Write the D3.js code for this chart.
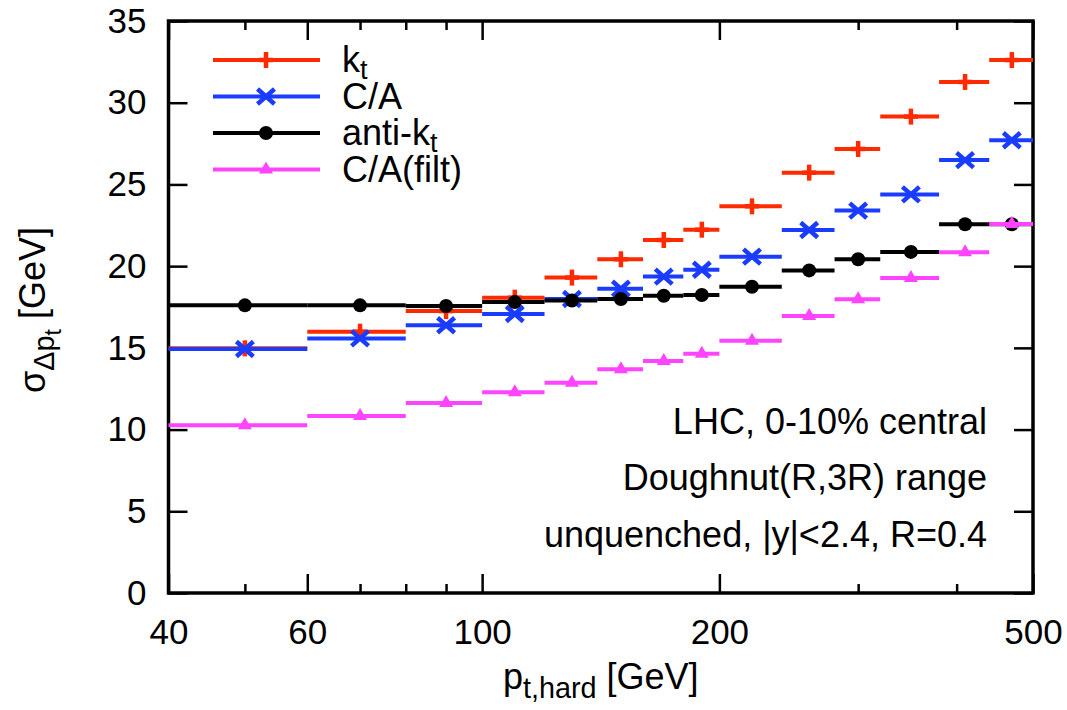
<!DOCTYPE html>
<html>
<head>
<meta charset="utf-8">
<script src="https://cdn.jsdelivr.net/npm/d3@7"></script>
<style>
  html, body { margin: 0; padding: 0; background: #fff; }
  svg { display: block; }
  text { font-family: "Liberation Sans", Arial, Helvetica, sans-serif; fill: #000; }
</style>
</head>
<body>
<svg id="chart" width="1067" height="710"></svg>
<script>
// ---- data ----
const binLo  = [40, 60, 80, 100, 120, 140, 160, 180, 200, 240, 280, 320, 380, 440];
const binHi  = [60, 80, 100, 120, 140, 160, 180, 200, 240, 280, 320, 380, 440, 500];
const binMid = [50, 70, 90, 110, 130, 150, 170, 190, 220, 260, 300, 350, 410, 470];

const ktVals     = [14.97, 15.99, 17.25, 18.07, 19.30, 20.42, 21.60, 22.23, 23.66, 25.72, 27.17, 29.15, 31.27, 32.61];
const caVals     = [14.93, 15.58, 16.38, 17.07, 17.99, 18.62, 19.36, 19.78, 20.58, 22.21, 23.40, 24.39, 26.49, 27.70];
const antiktVals = [17.60, 17.60, 17.56, 17.80, 17.90, 17.99, 18.19, 18.23, 18.74, 19.74, 20.42, 20.87, 22.56, 22.56];
const filtVals   = [10.26, 10.83, 11.63, 12.28, 12.87, 13.69, 14.20, 14.64, 15.44, 16.95, 17.97, 19.27, 20.85, 22.58];

const seriesLabels  = [["k", "t"], ["C/A", ""], ["anti-k", "t"], ["C/A(filt)", ""]];
const seriesMarkers = ["plus", "cross", "circle", "triangle"];
const seriesColors  = ["#ff2a00", "#1a3cff", "#000000", "#ff44ff"];

const xMajorTicks = [40, 60, 100, 200, 500];
const xMinorTicks = [50, 70, 80, 90, 300, 400];
const yTicks      = [0, 5, 10, 15, 20, 25, 30, 35];

const annotations = ["LHC, 0-10% central", "Doughnut(R,3R) range", "unquenched, |y|<2.4, R=0.4"];

// ---- layout ----
const W = 1067, H = 710;
const L = 168.5, R = 1033, T = 21, B = 593;
const FONT = 36, TICKFONT = 35;

const svg = d3.select("#chart");
const x = d3.scaleLog().domain([40, 500]).range([L, R]);
const y = d3.scaleLinear().domain([0, 35]).range([B, T]);

const seriesVals = [ktVals, caVals, antiktVals, filtVals];
const series = seriesVals.map((vals, i) => ({
  label: seriesLabels[i], marker: seriesMarkers[i], color: seriesColors[i],
  points: vals.map((v, j) => ({ lo: binLo[j], hi: binHi[j], mid: binMid[j], v }))
}));

// ---- axes ----
function styleAxis(g) {
  g.select(".domain").remove();
  g.selectAll(".tick line").attr("stroke", "#000").attr("stroke-width", 2.5);
  g.selectAll(".tick text").attr("font-size", TICKFONT)
    .attr("font-family", '"Liberation Sans", Arial, Helvetica, sans-serif').attr("fill", "#000");
  g.attr("font-size", null).attr("font-family", null);
}

svg.append("g").attr("transform", `translate(0,${B})`)
  .call(d3.axisBottom(x).tickValues(xMajorTicks).tickSize(-19).tickSizeOuter(0)
        .tickPadding(26).tickFormat(d3.format("d")))
  .call(styleAxis);
svg.append("g").attr("transform", `translate(0,${B})`)
  .call(d3.axisBottom(x).tickValues(xMinorTicks).tickSize(-9).tickSizeOuter(0).tickFormat(""))
  .call(styleAxis);
svg.append("g").attr("transform", `translate(0,${T})`)
  .call(d3.axisTop(x).tickValues(xMajorTicks).tickSize(-19).tickSizeOuter(0).tickFormat(""))
  .call(styleAxis);
svg.append("g").attr("transform", `translate(0,${T})`)
  .call(d3.axisTop(x).tickValues(xMinorTicks).tickSize(-9).tickSizeOuter(0).tickFormat(""))
  .call(styleAxis);
svg.append("g").attr("transform", `translate(${L},0)`)
  .call(d3.axisLeft(y).tickValues(yTicks).tickSize(-19).tickSizeOuter(0).tickPadding(22))
  .call(styleAxis);
svg.append("g").attr("transform", `translate(${R},0)`)
  .call(d3.axisRight(y).tickValues(yTicks).tickSize(-19).tickSizeOuter(0).tickFormat(""))
  .call(styleAxis);

// frame
svg.append("rect").attr("x", L).attr("y", T).attr("width", R - L).attr("height", B - T)
  .attr("fill", "none").attr("stroke", "#000").attr("stroke-width", 3.5);

// ---- markers ----
function drawMarker(g, type, color, cx, cy) {
  if (type === "plus") {
    g.append("line").attr("x1", cx).attr("x2", cx).attr("y1", cy - 8).attr("y2", cy + 8)
      .attr("stroke", color).attr("stroke-width", 4.5);
    g.append("line").attr("x1", cx - 7).attr("x2", cx + 7).attr("y1", cy).attr("y2", cy)
      .attr("stroke", color).attr("stroke-width", 4.5);
  } else if (type === "cross") {
    g.append("line").attr("x1", cx - 8.5).attr("x2", cx + 8.5).attr("y1", cy - 7.5).attr("y2", cy + 7.5)
      .attr("stroke", color).attr("stroke-width", 4.5);
    g.append("line").attr("x1", cx - 8.5).attr("x2", cx + 8.5).attr("y1", cy + 7.5).attr("y2", cy - 7.5)
      .attr("stroke", color).attr("stroke-width", 4.5);
  } else if (type === "circle") {
    g.append("circle").attr("cx", cx).attr("cy", cy).attr("r", 7).attr("fill", color);
  } else if (type === "triangle") {
    g.append("path").attr("d", `M${cx},${cy - 8}L${cx + 7},${cy + 4}L${cx - 7},${cy + 4}Z`).attr("fill", color);
  }
}

// ---- data marks ----
series.forEach(s => {
  const g = svg.append("g");
  g.selectAll("line.bin").data(s.points).enter().append("line").attr("class", "bin")
    .attr("x1", d => x(d.lo)).attr("x2", d => x(d.hi))
    .attr("y1", d => y(d.v)).attr("y2", d => y(d.v))
    .attr("stroke", s.color).attr("stroke-width", 4);
  s.points.forEach(d => drawMarker(g, s.marker, s.color, x(d.mid), y(d.v)));
});

// ---- legend ----
const legY0 = 60, legStep = 36.5;
series.forEach((s, i) => {
  const ly = legY0 + i * legStep;
  const g = svg.append("g");
  g.append("line").attr("x1", 213).attr("x2", 320).attr("y1", ly).attr("y2", ly)
    .attr("stroke", s.color).attr("stroke-width", 4);
  drawMarker(g, s.marker, s.color, 266, ly);
  const t = g.append("text").attr("x", 342).attr("y", ly + 12).attr("font-size", FONT);
  t.append("tspan").text(s.label[0]);
  if (s.label[1]) t.append("tspan").attr("font-size", FONT * 0.75).attr("dy", 7).text(s.label[1]);
});

// ---- annotations ----
annotations.forEach((a, i) => {
  svg.append("text").attr("x", 987).attr("y", 434 + i * 56.3)
    .attr("text-anchor", "end").attr("font-size", FONT).text(a);
});

// ---- axis titles ----
const xt = svg.append("text").attr("x", (L + R) / 2).attr("y", 689)
  .attr("text-anchor", "middle").attr("font-size", FONT);
xt.append("tspan").text("p");
xt.append("tspan").attr("font-size", FONT * 0.8).attr("dy", 9).text("t,hard");
xt.append("tspan").attr("dy", -9).text(" [GeV]");

const yt = svg.append("text").attr("transform", `translate(45,${(T + B) / 2 + 3}) rotate(-90)`)
  .attr("text-anchor", "middle").attr("font-size", FONT);
yt.append("tspan").text("σ");
yt.append("tspan").attr("font-size", FONT * 0.8).attr("dy", 9).text("Δp");
yt.append("tspan").attr("font-size", FONT * 0.64).attr("dy", 7).text("t");
yt.append("tspan").attr("dy", -16).text(" [GeV]");
</script>
</body>
</html>
